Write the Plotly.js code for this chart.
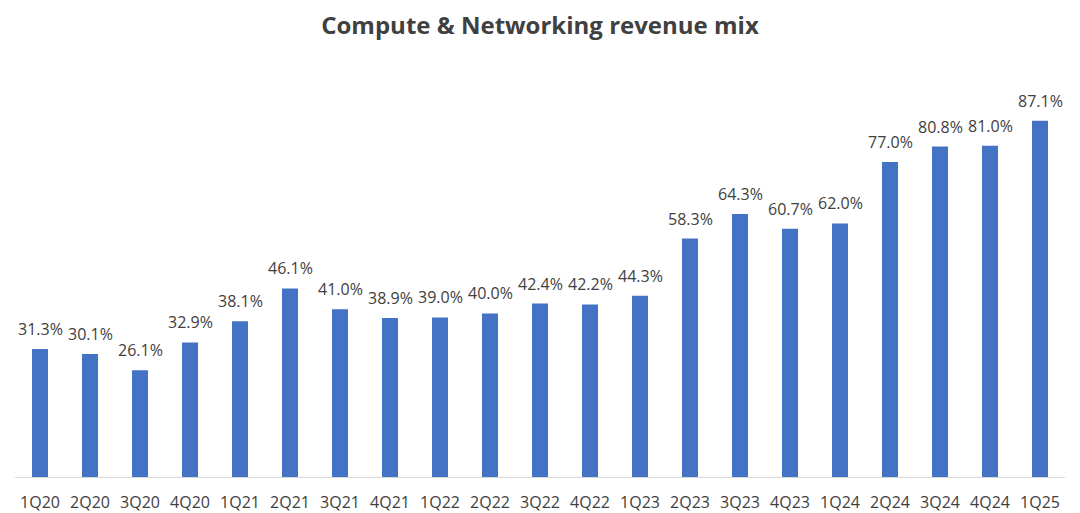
<!DOCTYPE html>
<html>
<head>
<meta charset="utf-8">
<script src="https://cdn.plot.ly/plotly-3.0.1.min.js"></script>
<style>
  html, body { margin: 0; padding: 0; background: #fff; }
  #plot { width: 1080px; height: 513px; }
</style>
</head>
<body>
<div id="plot"></div>
<script>
var quarters = ['1Q20', '2Q20', '3Q20', '4Q20', '1Q21', '2Q21', '3Q21', '4Q21',
  '1Q22', '2Q22', '3Q22', '4Q22', '1Q23', '2Q23', '3Q23', '4Q23',
  '1Q24', '2Q24', '3Q24', '4Q24', '1Q25'];
var mixPct = [31.3, 30.1, 26.1, 32.9, 38.1, 46.1, 41.0, 38.9,
  39.0, 40.0, 42.4, 42.2, 44.3, 58.3, 64.3, 60.7,
  62.0, 77.0, 80.8, 81.0, 87.1];

var labels = mixPct.map(function(v) { return v.toFixed(1) + '%'; });

var trace = {
  type: 'bar',
  x: quarters,
  y: mixPct,
  marker: {color: '#4472C4'},
  hoverinfo: 'none'
};

var notes = [];
for (var i = 0; i < quarters.length; i++) {
  notes.push({
    x: quarters[i],
    y: mixPct[i],
    text: labels[i],
    showarrow: false,
    xanchor: 'center',
    yanchor: 'bottom',
    yshift: 7,
    font: {family: 'Open Sans', size: 16, color: '#404040'}
  });
}

var layout = {
  width: 1080,
  height: 513,
  margin: {l: 15, r: 15, t: 68, b: 36},
  paper_bgcolor: '#ffffff',
  plot_bgcolor: '#ffffff',
  showlegend: false,
  bargap: 0.68,
  title: {
    text: '<b>Compute & Networking revenue mix</b>',
    x: 0.5,
    xanchor: 'center',
    y: 0.95,
    yanchor: 'middle',
    font: {family: 'Open Sans', size: 24, color: '#404040'}
  },
  xaxis: {
    type: 'category',
    showline: true,
    linecolor: '#d9d9d9',
    linewidth: 1,
    ticks: '',
    ticklabelstandoff: 11,
    showgrid: false,
    zeroline: false,
    tickfont: {family: 'Open Sans', size: 16, color: '#404040'}
  },
  yaxis: {
    range: [0, 100],
    visible: false,
    showgrid: false,
    zeroline: false
  },
  annotations: notes
};

Plotly.newPlot('plot', [trace], layout, {displayModeBar: false, staticPlot: true});
</script>
</body>
</html>
